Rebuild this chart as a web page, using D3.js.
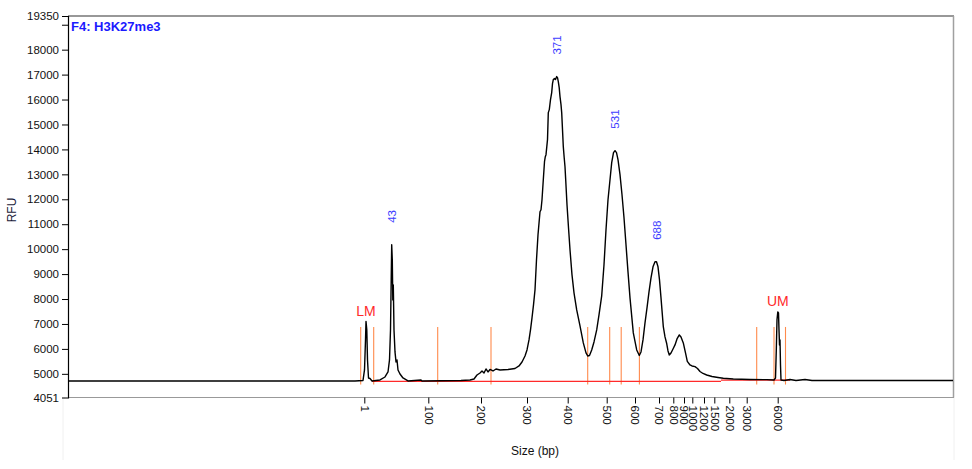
<!DOCTYPE html>
<html>
<head>
<meta charset="utf-8">
<script src="https://cdn.jsdelivr.net/npm/d3@7"></script>
<style>
  html, body { margin: 0; padding: 0; background: #fff; }
  svg { display: block; font-family: "Liberation Sans", Arial, sans-serif; }
</style>
</head>
<body>
<svg id="chart" width="972" height="469"></svg>
<script>
// ---------------- DATA ----------------
const chartTitle = "F4: H3K27me3";
const xAxisTitle = "Size (bp)";
const yAxisTitle = "RFU";

// migration time (s) of each ladder size, and the size labels
const ladderTimes = [29.63, 36.03, 41.30, 45.90, 49.97, 53.87, 56.70, 59.10, 60.53, 61.60, 62.43, 63.60, 64.63, 66.13, 67.87, 70.97];
const ladderSizes = ["1", "100", "200", "300", "400", "500", "600", "700", "800", "900", "1000", "1200", "1500", "2000", "3000", "6000"];

// y ticks
const yTickValues = [4051, 5000, 6000, 7000, 8000, 9000, 10000, 11000, 12000, 13000, 14000, 15000, 16000, 17000, 18000, 19000, 19350];
const yTickLabels = ["4051", "5000", "6000", "7000", "8000", "9000", "10000", "11000", "12000", "13000", "14000", "15000", "16000", "17000", "18000", "", "19350"];

// electropherogram trace: time (s)
const traceTime = [0.0, 13.2, 28.7, 29.5, 29.65, 29.75, 29.8, 29.88, 29.95, 30.05, 30.2, 30.4, 31.2, 31.7, 32.0, 32.15, 32.25, 32.32, 32.37, 32.43, 32.48, 32.53, 32.6, 32.7, 32.8, 32.9, 33.0, 33.2, 33.5, 34.0, 35.3, 35.4, 39.3, 40.2, 40.6, 40.9, 41.2, 41.4, 41.6, 41.8, 42.0, 42.2, 42.5, 42.8, 43.2, 44.0, 44.7, 45.1, 45.4, 45.7, 45.9, 46.1, 46.25, 46.4, 46.55, 46.7, 46.85, 47.0, 47.2, 47.3, 47.4, 47.53, 47.65, 47.73, 47.8, 47.95, 48.03, 48.13, 48.25, 48.37, 48.45, 48.53, 48.65, 48.75, 48.87, 48.95, 49.03, 49.12, 49.2, 49.3, 49.37, 49.45, 49.53, 49.62, 49.7, 49.77, 49.9, 50.05, 50.2, 50.4, 50.6, 50.87, 51.2, 51.53, 51.8, 51.97, 52.15, 52.37, 52.6, 52.87, 53.1, 53.37, 53.6, 53.8, 54.0, 54.2, 54.37, 54.55, 54.7, 54.85, 55.0, 55.2, 55.4, 55.6, 55.8, 56.0, 56.2, 56.53, 56.87, 57.13, 57.3, 57.5, 57.7, 57.9, 58.1, 58.3, 58.5, 58.7, 58.85, 59.0, 59.15, 59.3, 59.53, 59.7, 59.87, 60.0, 60.13, 60.3, 60.5, 60.7, 60.9, 61.13, 61.3, 61.53, 61.75, 61.93, 62.2, 62.4, 62.7, 62.95, 63.2, 63.5, 63.87, 64.4, 65.0, 65.53, 66.53, 68.2, 69.87, 70.6, 70.75, 70.83, 70.9, 70.98, 71.05, 71.1, 71.15, 71.2, 71.25, 71.3, 71.6, 72.2, 72.8, 73.7, 74.4, 88.5];
// electropherogram trace: RFU
const traceRFU = [4714, 4714, 4714, 4734, 5155, 6360, 7103, 6761, 5557, 4834, 4814, 4714, 4754, 4874, 5075, 5557, 6761, 8769, 10175, 9572, 7966, 8568, 6761, 5878, 5477, 5557, 5155, 4995, 4834, 4714, 4754, 4714, 4734, 4754, 4794, 4955, 5035, 5115, 5035, 5195, 5075, 5175, 5115, 5195, 5155, 5175, 5215, 5316, 5476, 5717, 5958, 6360, 6761, 7243, 7765, 8368, 9572, 10576, 11500, 11580, 11982, 12785, 13508, 13708, 13789, 14391, 15475, 15596, 15997, 16278, 16640, 16800, 16840, 16800, 16920, 16880, 16720, 16479, 16118, 15797, 15475, 14793, 14110, 13668, 13307, 12785, 11781, 10857, 9974, 8970, 8247, 7564, 6922, 6239, 5838, 5717, 5737, 5958, 6279, 6761, 7364, 8127, 9372, 10777, 11982, 12785, 13468, 13870, 13950, 13870, 13588, 12986, 12182, 11259, 10175, 9090, 8047, 6641, 5958, 5737, 5878, 6360, 7043, 7645, 8288, 8850, 9292, 9492, 9492, 9292, 8769, 8047, 6894, 6480, 6215, 5918, 5757, 5838, 5998, 6159, 6400, 6561, 6480, 6239, 5838, 5497, 5356, 5316, 5288, 5216, 5095, 5015, 4954, 4894, 4854, 4822, 4794, 4774, 4766, 4754, 4834, 5958, 7163, 7484, 7444, 6761, 6159, 6360, 5356, 4754, 4734, 4774, 4734, 4774, 4734, 4734];

// called peaks
const peakLabels = ["43", "371", "531", "688"];
const peakTimes = [32.37, 48.87, 54.7, 58.85];
const peakRFU = [10175, 16920, 13950, 9492];

// markers (lower / upper)
const markerLabels = ["LM", "UM"];
const markerTimes = [29.8, 70.98];
const markerRFU = [7103, 7484];

// region boundary lines (time) and their RFU extent
const regionTimes = [29.27, 30.57, 36.97, 42.3, 51.97, 54.17, 55.32, 57.14, 68.87, 70.6, 71.75];
const regionRFURange = [4570, 6880];

// baseline segments: [startTime, endTime, RFU]
const baselineStart = [30.4, 65.3];
const baselineEnd = [65.3, 72.2];
const baselineRFU = [4700, 4745];

// ---------------- CHART ----------------
const svg = d3.select("#chart");
const W = 972, H = 469;
const mLeft = 68, mRight = 953, mTop = 16, mBottom = 397.5;

const x = d3.scaleLinear().domain([0, 88.5]).range([mLeft, mRight]);
const y = d3.scaleLinear().domain([4051, 19350]).range([mBottom, mTop]);

svg.append("rect").attr("width", W).attr("height", H).attr("fill", "#fff");

// faint outer frame
svg.append("line").attr("x1", mLeft - 5).attr("x2", mLeft - 5).attr("y1", mBottom).attr("y2", 460)
  .attr("stroke", "#f0f0f0");
svg.append("line").attr("x1", mRight + 1).attr("x2", mRight + 1).attr("y1", mBottom).attr("y2", 460)
  .attr("stroke", "#f0f0f0");

// plot frame
svg.append("line").attr("x1", mLeft).attr("x2", mRight + 1).attr("y1", mTop).attr("y2", mTop)
  .attr("stroke", "#333").attr("stroke-width", 1.2);
svg.append("line").attr("x1", mRight + 0.5).attr("x2", mRight + 0.5).attr("y1", mTop).attr("y2", mBottom)
  .attr("stroke", "#a0a0a0").attr("stroke-width", 1.5);
svg.append("line").attr("x1", mLeft).attr("x2", mRight + 1).attr("y1", mBottom).attr("y2", mBottom)
  .attr("stroke", "#999").attr("stroke-width", 1.2);

// region lines
svg.append("g").selectAll("line").data(regionTimes).join("line")
  .attr("x1", d => x(d)).attr("x2", d => x(d))
  .attr("y1", y(regionRFURange[0])).attr("y2", y(regionRFURange[1]))
  .attr("stroke", "#ff8a4c").attr("stroke-width", 1.1);

// baseline segments
svg.append("g").selectAll("line").data(baselineStart).join("line")
  .attr("x1", (d, i) => x(d)).attr("x2", (d, i) => x(baselineEnd[i]))
  .attr("y1", (d, i) => y(baselineRFU[i])).attr("y2", (d, i) => y(baselineRFU[i]))
  .attr("stroke", "#ff2a2a").attr("stroke-width", 1.3);

// trace
const pts = traceTime.map((t, i) => [t, traceRFU[i]]);
svg.append("path")
  .attr("d", d3.line().x(d => x(d[0])).y(d => y(d[1]))(pts))
  .attr("fill", "none").attr("stroke", "#000").attr("stroke-width", 1.4)
  .attr("stroke-linejoin", "round");

// y axis
const yAxis = d3.axisLeft(y).tickValues(yTickValues)
  .tickFormat((d, i) => yTickLabels[i]).tickSize(6).tickPadding(3);
const gy = svg.append("g").attr("transform", `translate(${mLeft},0)`).call(yAxis);
gy.select(".domain").attr("stroke", "#000").attr("stroke-width", 1.2);
gy.selectAll(".tick line").attr("stroke", "#000");
gy.selectAll(".tick text").attr("font-size", 11.5).attr("fill", "#111")
  .attr("font-family", "Liberation Sans, Arial, sans-serif");
gy.selectAll(".tick").filter(d => d === 4051).select("line")
  .attr("stroke", "#777").attr("stroke-dasharray", "1,2");

// x axis
const xAxis = d3.axisBottom(x).tickValues(ladderTimes)
  .tickFormat((d, i) => ladderSizes[i]).tickSize(6).tickSizeOuter(0);
const gx = svg.append("g").attr("transform", `translate(0,${mBottom})`).call(xAxis);
gx.select(".domain").remove();
gx.selectAll(".tick line").attr("stroke", "#000");
gx.selectAll(".tick text")
  .attr("font-size", 11.5).attr("fill", "#111")
  .attr("font-family", "Liberation Sans, Arial, sans-serif")
  .attr("text-anchor", "start")
  .attr("transform", "rotate(90)")
  .attr("x", 8).attr("y", 0).attr("dy", "0.35em");

// title
svg.append("text").attr("x", mLeft + 3).attr("y", 31)
  .attr("font-size", 13).attr("font-weight", "bold").attr("fill", "#1a1aff")
  .text(chartTitle);

// axis titles
svg.append("text").attr("x", 535).attr("y", 455).attr("text-anchor", "middle")
  .attr("font-size", 12).attr("fill", "#111").text(xAxisTitle);
svg.append("text").attr("transform", `translate(16,210) rotate(-90)`).attr("text-anchor", "middle")
  .attr("font-size", 12).attr("fill", "#1a1a3a").text(yAxisTitle);

// peak labels
svg.append("g").selectAll("text").data(peakLabels).join("text")
  .attr("transform", (d, i) => `translate(${x(peakTimes[i])},${y(peakRFU[i]) - 22}) rotate(-90)`)
  .attr("text-anchor", "start").attr("dy", "0.35em")
  .attr("font-size", 11.5).attr("fill", "#3c3cff")
  .text(d => d);

// marker labels
svg.append("g").selectAll("text").data(markerLabels).join("text")
  .attr("x", (d, i) => x(markerTimes[i]))
  .attr("y", (d, i) => y(markerRFU[i]) - 5.5)
  .attr("text-anchor", "middle")
  .attr("font-size", 14).attr("fill", "#ff2a2a")
  .text(d => d);
</script>
</body>
</html>
